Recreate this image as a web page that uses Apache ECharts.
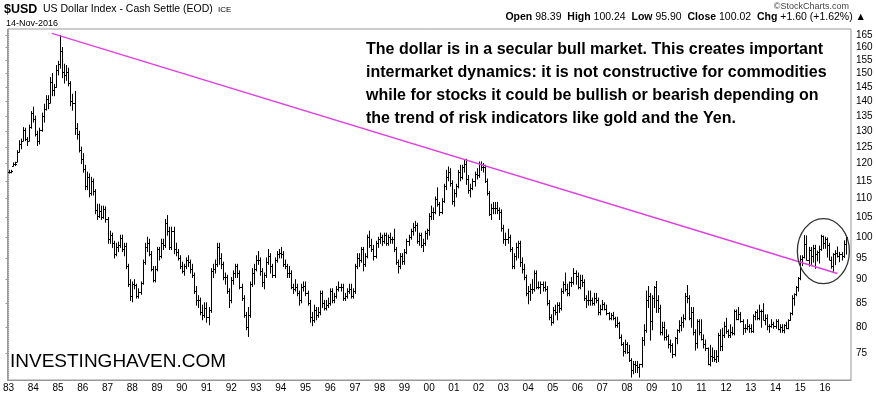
<!DOCTYPE html>
<html><head><meta charset="utf-8">
<script src="https://cdn.jsdelivr.net/npm/echarts@6/dist/echarts.min.js"></script>
<style>html,body{margin:0;padding:0;background:#fff}#c{width:876px;height:395px}</style>
</head><body><div id="c"></div>
<script>
// ---- data (monthly OHLC, Jan 1983 .. Nov 2016) ----
const startYear = 1983;
const yearLabels = ['83','84','85','86','87','88','89','90','91','92','93','94','95','96','97','98','99','00','01','02','03','04','05','06','07','08','09','10','11','12','13','14','15','16'];
const yTickValues = [75,80,85,90,95,100,105,110,115,120,125,130,135,140,145,150,155,160,165];

const opens = [
117.6,117.5,119.4,119.8,120.6,123.5,126.0,127.0,130.5,127.5,127.0,131.5,
136.0,134.0,129.0,127.0,130.5,135.0,137.5,141.0,139.5,147.0,144.0,145.0,
151.5,153.5,158.5,150.5,149.5,150.5,146.5,140.0,139.5,131.0,129.0,124.0,
121.5,118.5,113.5,116.0,111.5,115.0,112.0,107.0,105.5,106.8,105.2,107.3,
104.5,99.5,100.5,98.5,96.0,97.5,98.0,99.8,97.0,97.8,93.0,89.0,
86.5,89.0,88.8,86.5,87.2,89.2,94.0,97.5,98.5,96.0,92.5,90.0,
92.5,97.0,95.5,98.5,98.0,103.5,101.5,97.5,101.5,97.0,96.5,95.0,
93.0,92.0,93.0,94.5,94.0,92.5,91.0,87.5,85.5,85.5,83.0,82.5,
84.0,82.0,83.5,92.0,92.5,93.5,97.5,95.0,93.5,90.5,90.5,87.5,
85.5,90.0,91.5,93.0,91.5,88.5,86.0,82.5,80.0,82.5,89.0,91.5,
92.5,94.5,94.5,92.0,89.5,91.0,94.0,95.5,93.0,91.0,94.5,96.0,
96.2,96.0,93.5,93.0,91.5,91.5,88.5,88.0,88.5,87.0,85.5,88.5,
88.7,87.0,85.0,82.0,81.5,83.5,82.5,83.0,87.0,85.0,84.0,84.5,
85.0,87.5,85.5,86.5,88.0,88.5,88.5,86.0,86.5,87.5,88.0,86.5,
87.5,93.0,95.0,94.5,97.0,93.5,95.5,100.0,98.0,97.0,95.5,98.5,
99.6,100.0,99.0,100.5,98.5,100.0,99.5,99.5,97.0,94.0,93.0,95.5,
94.2,96.5,99.0,100.0,101.5,102.5,103.0,99.0,100.5,98.0,98.5,101.0,
101.9,105.5,106.5,106.5,110.0,108.5,106.5,109.5,113.5,116.0,117.5,114.5,
109.5,111.5,113.5,117.5,116.0,119.0,120.0,115.5,112.5,113.0,115.0,117.0,
116.8,120.0,119.0,119.0,115.0,111.5,106.0,107.5,107.5,107.5,107.0,106.5,
102.2,99.5,99.5,100.0,97.0,93.0,95.5,97.5,98.5,94.0,92.5,90.5,
87.0,87.5,88.0,88.0,91.5,88.5,88.5,89.0,88.5,88.0,85.0,82.0,
81.0,83.5,83.0,84.5,84.0,87.5,89.0,88.0,87.0,89.5,89.5,91.5,
90.8,88.5,90.0,89.5,86.0,85.5,85.5,85.5,85.0,86.0,85.5,83.0,
83.7,84.8,83.8,82.8,81.8,82.5,81.8,80.5,80.9,78.0,76.8,75.5,
76.7,75.3,73.7,71.9,73.0,72.8,72.5,73.0,77.5,79.5,85.5,86.5,
81.3,86.0,88.5,85.5,84.0,79.0,80.0,78.0,78.2,76.8,76.5,74.8,
77.9,79.5,80.5,81.0,81.8,86.5,86.0,81.8,83.0,79.0,77.0,81.2,
79.0,77.8,76.8,75.9,73.0,74.5,74.3,74.0,74.5,78.5,76.3,78.5,
80.2,79.3,78.5,79.0,78.8,83.3,81.6,82.6,81.3,79.9,79.9,80.2,
79.8,79.3,82.2,83.0,81.8,83.3,83.2,81.5,81.8,80.2,80.3,80.7,
80.2,81.2,79.7,80.1,79.5,80.4,79.8,81.5,82.8,86.0,86.9,88.4,
90.3,94.8,95.3,98.4,94.6,96.9,95.5,97.3,96.0,96.3,97.0,100.2,
98.6,99.6,98.2,94.6,93.1,95.9,96.1,95.5,96.0,95.4,98.39
];
const highs = [
118.0,118.0,120.2,120.4,123.9,127.0,127.5,131.2,131.0,128.0,132.0,136.5,
138.0,135.0,130.0,131.0,136.0,139.0,142.0,142.0,148.5,150.0,146.0,153.0,
154.6,164.7,160.0,153.5,153.0,152.0,147.0,142.5,143.5,132.5,130.0,125.0,
123.0,119.5,117.5,117.0,116.0,115.5,112.5,108.5,108.5,108.0,108.0,107.8,
105.0,101.5,101.0,99.0,98.5,98.8,100.5,100.5,98.5,98.5,93.5,90.0,
89.5,90.0,89.0,88.0,89.5,94.5,98.5,100.0,99.5,96.5,93.0,93.0,
97.5,97.5,99.5,99.5,104.5,105.5,102.5,102.5,102.5,98.5,97.0,95.5,
94.0,93.5,95.0,95.5,94.5,93.5,91.5,88.5,86.5,86.0,84.5,85.0,
85.0,84.0,92.5,93.5,94.5,98.5,98.5,96.0,94.0,91.5,91.0,88.0,
90.5,92.0,93.5,93.5,92.0,89.0,86.5,83.0,84.0,89.5,92.5,93.5,
95.5,96.5,95.0,92.5,91.5,95.0,97.0,96.0,93.5,95.0,96.5,97.0,
97.5,96.5,94.5,93.5,93.0,92.0,89.0,90.0,89.0,87.5,89.0,89.5,
89.5,87.5,85.5,83.0,84.5,84.0,84.0,87.5,87.5,85.5,85.5,86.0,
88.0,88.0,87.0,88.5,89.5,89.0,89.0,87.0,88.0,89.0,89.0,88.0,
93.5,96.0,96.0,97.5,97.5,96.0,100.5,101.5,99.5,98.0,99.0,100.0,
101.0,100.5,101.0,101.0,100.5,101.0,100.0,102.0,97.5,94.5,96.0,96.0,
97.0,99.5,100.5,102.0,103.5,104.0,103.5,101.0,101.0,99.5,101.5,102.0,
106.0,108.0,107.5,110.5,113.0,109.0,110.0,114.0,118.0,119.0,118.5,115.0,
112.5,114.0,118.0,119.5,119.5,121.0,121.3,116.5,114.0,115.5,117.5,118.5,
120.5,120.5,120.0,119.5,115.5,112.0,108.5,109.0,109.0,109.0,107.5,107.0,
103.0,101.0,102.0,100.5,97.5,96.0,98.5,99.0,99.0,95.0,93.5,91.0,
88.5,89.0,90.0,92.0,92.0,89.5,89.5,89.5,89.5,88.5,85.5,82.5,
84.0,84.5,85.0,85.0,88.0,89.5,91.5,89.0,89.5,90.5,92.5,92.0,
91.5,91.0,91.0,90.0,86.5,87.5,87.5,86.0,87.0,87.0,86.0,84.5,
85.5,85.0,84.5,83.0,82.8,83.0,82.0,82.0,81.0,78.5,77.0,77.5,
77.0,76.5,74.0,73.5,73.5,73.5,73.0,78.0,80.5,87.5,88.5,87.0,
86.5,88.5,89.6,86.5,84.5,81.0,81.0,79.5,78.5,77.5,76.8,78.0,
79.5,81.3,82.0,82.5,87.0,88.7,86.5,84.0,84.0,79.5,81.5,81.5,
81.5,78.5,77.5,76.0,76.5,76.0,75.5,75.5,78.8,79.5,79.8,81.0,
81.8,79.5,80.5,80.0,83.5,83.5,84.0,83.0,81.5,80.5,81.5,80.5,
80.5,82.5,83.2,83.5,84.5,83.5,84.8,82.5,82.5,80.5,81.5,81.0,
81.5,81.5,80.5,80.5,80.5,81.0,81.5,82.9,86.5,86.9,88.5,90.5,
95.5,95.5,100.4,100.3,97.5,97.5,98.0,98.0,96.6,97.8,100.5,100.3,
100.0,99.8,98.5,95.2,96.0,96.7,97.6,96.3,96.3,99.1,100.24
];
const lows = [
117.2,117.3,119.3,119.4,120.6,123.5,124.5,127.0,127.0,125.5,127.0,131.0,
133.0,128.5,125.5,126.0,130.0,133.0,137.0,137.5,139.5,142.0,142.0,145.0,
149.5,152.0,148.5,146.5,147.5,145.5,138.5,137.0,129.0,127.5,123.5,120.0,
117.5,112.5,112.5,110.5,111.0,111.0,106.0,104.5,105.0,104.5,104.8,103.8,
98.5,98.5,97.5,95.0,95.5,96.5,97.5,96.5,95.5,92.5,88.5,85.5,
85.2,88.0,86.0,86.0,86.8,89.0,93.5,96.5,95.5,92.0,89.5,89.5,
92.0,94.5,95.0,97.0,97.5,100.5,97.0,97.0,96.0,95.5,94.5,92.5,
91.5,91.0,92.5,93.0,91.5,90.5,87.0,84.5,84.0,82.5,81.5,82.0,
81.0,80.5,83.0,90.5,91.5,93.0,93.5,92.5,90.0,89.0,87.0,84.0,
85.0,89.0,90.5,90.5,88.0,85.5,82.0,79.5,78.2,82.0,88.5,89.0,
92.0,93.5,91.0,88.5,88.0,90.5,93.5,91.5,90.5,90.5,94.0,95.0,
95.0,93.0,92.5,90.5,90.5,88.0,87.0,87.5,86.5,84.5,85.0,87.5,
86.5,84.5,81.0,80.3,81.0,81.5,82.0,82.5,84.0,83.5,83.5,84.0,
84.5,85.0,85.0,86.0,87.5,87.5,85.5,85.5,86.0,87.0,86.0,86.0,
87.0,92.5,93.0,94.0,92.0,93.0,95.0,97.5,96.5,94.5,95.0,97.5,
98.5,98.0,98.5,98.0,98.0,98.5,98.5,96.5,93.5,91.5,92.5,93.5,
93.5,96.0,98.0,99.5,100.5,101.5,98.5,98.0,97.5,96.5,98.0,99.5,
100.5,104.5,104.5,106.0,108.0,105.5,106.0,109.0,112.5,115.0,113.5,108.5,
108.0,110.5,113.0,115.0,115.5,117.5,114.0,111.5,110.5,112.5,113.5,115.5,
116.0,118.0,117.5,114.5,111.0,105.5,104.5,106.0,106.0,106.0,104.5,101.5,
98.5,98.0,98.5,96.5,92.5,92.5,94.5,95.0,93.0,91.5,90.0,86.5,
84.8,85.5,87.0,87.5,88.0,88.0,87.0,87.5,87.5,84.5,81.5,80.4,
80.8,82.5,81.5,83.0,83.5,87.0,87.5,86.5,86.5,88.5,89.0,89.0,
88.0,88.0,88.5,85.5,84.0,84.5,84.5,84.5,84.5,85.0,82.5,82.5,
83.5,83.5,82.5,81.5,81.5,81.5,80.0,80.0,77.8,76.5,74.5,75.0,
75.0,73.5,70.7,71.3,71.5,71.5,70.7,72.5,76.5,79.0,84.0,77.5,
79.5,84.0,83.0,83.0,78.5,78.5,77.5,77.5,76.0,75.2,74.2,74.5,
76.8,79.0,79.3,80.0,81.5,85.0,81.5,80.0,78.5,75.6,76.0,78.5,
77.5,76.0,75.5,72.9,72.7,73.5,73.5,73.3,73.5,75.5,75.5,78.0,
78.8,78.0,78.0,78.5,78.5,81.5,81.5,81.0,78.6,79.0,79.5,79.0,
79.0,79.0,81.5,81.5,81.5,80.0,81.5,80.5,79.5,79.0,80.0,79.8,
79.8,79.5,79.0,79.0,78.9,79.7,79.7,81.4,82.5,84.5,86.5,87.5,
90.0,93.2,95.0,94.5,93.1,93.5,94.0,92.6,94.3,93.8,96.8,97.2,
97.3,95.2,94.6,92.6,91.9,93.4,95.2,94.1,94.5,95.1,95.90
];
const closes = [
117.5,117.8,119.8,120.0,123.5,126.0,127.0,130.5,127.5,127.0,131.5,136.0,
134.0,129.0,127.0,130.5,135.0,137.5,141.0,139.5,147.0,144.0,145.0,151.5,
153.5,158.5,150.5,149.5,150.5,146.5,140.0,139.5,131.0,129.0,124.0,121.5,
118.5,113.5,116.0,111.5,115.0,112.0,107.0,105.5,106.8,105.2,107.3,104.5,
99.5,100.5,98.5,96.0,97.5,98.0,99.8,97.0,97.8,93.0,89.0,86.5,
89.0,88.8,86.5,87.2,89.2,94.0,97.5,98.5,96.0,92.5,90.0,92.5,
97.0,95.5,98.5,98.0,103.5,101.5,97.5,101.5,97.0,96.5,95.0,93.0,
92.0,93.0,94.5,94.0,92.5,91.0,87.5,85.5,85.5,83.0,82.5,84.0,
82.0,83.5,92.0,92.5,93.5,97.5,95.0,93.5,90.5,90.5,87.5,85.5,
90.0,91.5,93.0,91.5,88.5,86.0,82.5,80.0,82.5,89.0,91.5,92.5,
94.5,94.5,92.0,89.5,91.0,94.0,95.5,93.0,91.0,94.5,96.0,96.2,
96.0,93.5,93.0,91.5,91.5,88.5,88.0,88.5,87.0,85.5,88.5,88.7,
87.0,85.0,82.0,81.5,83.5,82.5,83.0,87.0,85.0,84.0,84.5,85.0,
87.5,85.5,86.5,88.0,88.5,88.5,86.0,86.5,87.5,88.0,86.5,87.5,
93.0,95.0,94.5,97.0,93.5,95.5,100.0,98.0,97.0,95.5,98.5,99.6,
100.0,99.0,100.5,98.5,100.0,99.5,99.5,97.0,94.0,93.0,95.5,94.2,
96.5,99.0,100.0,101.5,102.5,103.0,99.0,100.5,98.0,98.5,101.0,101.9,
105.5,106.5,106.5,110.0,108.5,106.5,109.5,113.5,116.0,117.5,114.5,109.5,
111.5,113.5,117.5,116.0,119.0,120.0,115.5,112.5,113.0,115.0,117.0,116.8,
120.0,119.0,119.0,115.0,111.5,106.0,107.5,107.5,107.5,107.0,106.5,102.2,
99.5,99.5,100.0,97.0,93.0,95.5,97.5,98.5,94.0,92.5,90.5,87.0,
87.5,88.0,88.0,91.5,88.5,88.5,89.0,88.5,88.0,85.0,82.0,81.0,
83.5,83.0,84.5,84.0,87.5,89.0,88.0,87.0,89.5,89.5,91.5,90.8,
88.5,90.0,89.5,86.0,85.5,85.5,85.5,85.0,86.0,85.5,83.0,83.7,
84.8,83.8,82.8,81.8,82.5,81.8,80.5,80.9,78.0,76.8,75.5,76.7,
75.3,73.7,71.9,73.0,72.8,72.5,73.0,77.5,79.5,85.5,86.5,81.3,
86.0,88.5,85.5,84.0,79.0,80.0,78.0,78.2,76.8,76.5,74.8,77.9,
79.5,80.5,81.0,81.8,86.5,86.0,81.8,83.0,79.0,77.0,81.2,79.0,
77.8,76.8,75.9,73.0,74.5,74.3,74.0,74.5,78.5,76.3,78.5,80.2,
79.3,78.5,79.0,78.8,83.3,81.6,82.6,81.3,79.9,79.9,80.2,79.8,
79.3,82.2,83.0,81.8,83.3,83.2,81.5,81.8,80.2,80.3,80.7,80.2,
81.2,79.7,80.1,79.5,80.4,79.8,81.5,82.8,86.0,86.9,88.4,90.3,
94.8,95.3,98.4,94.6,96.9,95.5,97.3,96.0,96.3,97.0,100.2,98.6,
99.6,98.2,94.6,93.1,95.9,96.1,95.5,96.0,95.4,98.4,100.02
];
// trend line (month index from Jan 1983, value)
const trendMonths = [21, 402];
const trendValues = [165.7, 91.4];
// highlighted area (circle) centre, month index / value
const circleMonth = [395.2];
const circleValue = [96.6];
// header stats
const statLabels = ['Open','High','Low','Close','Chg'];
const statValues = ['98.39','100.24','95.90','100.02','+1.60 (+1.62%)'];

// ---- build ----
const ohlc = opens.map((o, i) => [i, o, highs[i], lows[i], closes[i]]);
const xTickValues = yearLabels.map((_, k) => k * 12);
const smallFont = "'Liberation Sans Narrow','Liberation Sans',Arial,sans-serif";
const font = "'Liberation Sans',Arial,sans-serif";

let statText = statLabels.map((l, i) => '{b|' + l + '} ' + statValues[i]).join('  ') + ' \u25B2';

const chart = echarts.init(document.getElementById('c'), null, {renderer: 'canvas'});
chart.setOption({
  animation: false,
  backgroundColor: '#fff',
  grid: {left: 7, right: 25, top: 29, bottom: 15, show: true, borderColor: '#999', borderWidth: 1},
  xAxis: {
    type: 'value', min: -0.5, max: 408.6,
    splitLine: {show: false},
    axisLine: {show: true, onZero: false, lineStyle: {color: '#999'}},
    axisTick: {show: false},
    axisLabel: {customValues: xTickValues, margin: 3, color: '#000', fontSize: 10, fontFamily: smallFont,
      formatter: v => yearLabels[Math.round(v / 12)]}
  },
  yAxis: {
    type: 'log', logBase: 10, min: 70.2, max: 167.5, position: 'right',
    splitLine: {show: false},
    axisLine: {show: true, lineStyle: {color: '#999', type: 'dotted'}},
    axisTick: {show: true, customValues: yTickValues, length: 3, inside: true, lineStyle: {color: '#999'}},
    axisLabel: {customValues: yTickValues, margin: 5, color: '#000', fontSize: 10, fontFamily: smallFont}
  },
  series: [
    {
      type: 'custom',
      data: ohlc,
      encode: {x: 0, y: [1, 2, 3, 4]},
      renderItem: function (params, api) {
        const i = api.value(0);
        const pH = api.coord([i, api.value(2)]);
        const pL = api.coord([i, api.value(3)]);
        const pO = api.coord([i, api.value(1)]);
        const pC = api.coord([i, api.value(4)]);
        const x = Math.round(pH[0]) + 0.5;
        const yo = Math.round(pO[1]) + 0.5, yc = Math.round(pC[1]) + 0.5;
        const st = {stroke: '#000', lineWidth: 1};
        return {type: 'group', children: [
          {type: 'line', shape: {x1: x, y1: pH[1] - 0.5, x2: x, y2: pL[1] + 0.5}, style: st},
          {type: 'line', shape: {x1: x - 1.5, y1: yo, x2: x, y2: yo}, style: st},
          {type: 'line', shape: {x1: x, y1: yc, x2: x + 1.5, y2: yc}, style: st}
        ]};
      },
      silent: true, z: 3
    },
    {
      type: 'line',
      data: trendMonths.map((m, i) => [m, trendValues[i]]),
      symbol: 'none', silent: true, z: 4,
      lineStyle: {color: '#e040e0', width: 1.5}
    },
    {
      type: 'custom',
      data: circleMonth.map((m, i) => [m, circleValue[i]]),
      renderItem: function (params, api) {
        const p = api.coord([api.value(0), api.value(1)]);
        return {type: 'ellipse', shape: {cx: p[0], cy: p[1], rx: 26, ry: 32.5},
          style: {fill: 'none', stroke: '#333', lineWidth: 1.3}};
      },
      silent: true, z: 5
    }
  ],
  graphic: [
    {type: 'text', left: 4, top: 3, style: {text: '$USD', font: "bold 12.5px " + font, fill: '#000'}},
    {type: 'text', left: 43, top: 4, style: {text: 'US Dollar Index - Cash Settle (EOD)', font: "10.5px " + font, fill: '#000'}},
    {type: 'text', left: 218, top: 6, style: {text: 'ICE', font: "8px " + font, fill: '#000'}},
    {type: 'text', left: 6, top: 19, style: {text: '14-Nov-2016', font: "9px " + font, fill: '#000'}},
    {type: 'text', right: 27, top: 2, style: {text: '\u00A9StockCharts.com', font: "9px " + font, fill: '#444'}},
    {type: 'text', right: 10, top: 12, style: {text: statText, font: "10.5px " + font, fill: '#000',
      rich: {b: {font: "bold 10.5px " + font, fill: '#000'}}}},
    {type: 'text', left: 366, top: 38, style: {
      text: 'The dollar is in a secular bull market. This creates important\nintermarket dynamics: it is not constructive for commodities\nwhile for stocks it could be bullish or bearish depending on\nthe trend of risk indicators like gold and the Yen.',
      font: "bold 16px " + font, fill: '#000', lineHeight: 23}},
    {type: 'text', left: 10, top: 352, style: {text: 'INVESTINGHAVEN.COM', font: "19px " + font, fill: '#000'}}
  ]
});
</script>
</body></html>
